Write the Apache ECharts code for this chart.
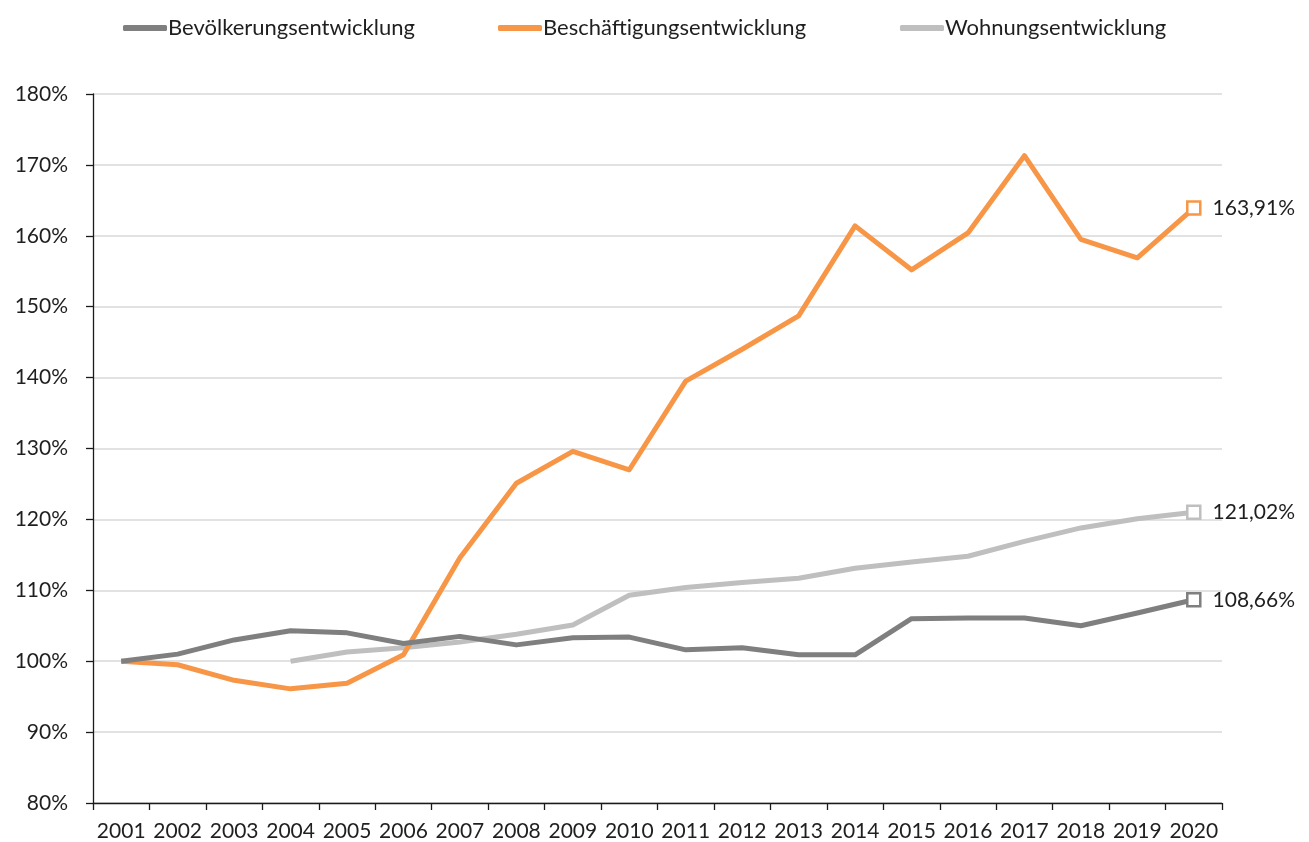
<!DOCTYPE html>
<html>
<head>
<meta charset="utf-8">
<script src="https://cdn.jsdelivr.net/npm/echarts@6/dist/echarts.min.js"></script>
<style>
  html, body { margin: 0; padding: 0; background: #fff; }
  #chart { width: 1309px; height: 842px; }
</style>
</head>
<body>
<div id="chart"></div>
<script>
const years = ['2001', '2002', '2003', '2004', '2005', '2006', '2007', '2008', '2009', '2010',
  '2011', '2012', '2013', '2014', '2015', '2016', '2017', '2018', '2019', '2020']

const bevoelkerung = [100, 101.0, 103.0, 104.3, 104.0, 102.5, 103.5, 102.3, 103.3, 103.4,
  101.6, 101.9, 100.9, 100.9, 106.0, 106.1, 106.1, 105.0, 106.8, 108.66]
const beschaeftigung = [100, 99.5, 97.3, 96.1, 96.9, 100.9, 114.6, 125.1, 129.6, 127.0,
  139.5, 144.0, 148.7, 161.4, 155.2, 160.4, 171.3, 159.5, 156.9, 163.91]
const wohnungen = [null, null, null, 100, 101.3, 101.9, 102.7, 103.8, 105.1, 109.3,
  110.4, 111.1, 111.7, 113.1, 114.0, 114.8, 116.9, 118.8, 120.1, 121.02]

const seriesNames = ['Bevölkerungsentwicklung', 'Beschäftigungsentwicklung', 'Wohnungsentwicklung']
const colors = ['#7f7f7f', '#f79646', '#bfbfbf']
const legendLefts = [118, 493, 895]

const fontName = 'Lato'
const textColor = '#1f1f1f'

function buildSeries(name, values, color, z) {
  const lastIdx = values.length - 1
  return {
    name: name,
    type: 'line',
    symbol: 'none',
    z: z,
    lineStyle: { color: color, width: 5, join: 'round' },
    itemStyle: { color: color },
    data: values.map((v, i) => {
      if (i !== lastIdx) return v
      return {
        value: v,
        symbol: 'rect',
        symbolSize: 13,
        itemStyle: { color: '#fff', borderColor: color, borderWidth: 2.5 },
        label: {
          show: true,
          position: 'right',
          distance: 11,
          color: textColor,
          fontFamily: fontName,
          fontSize: 21,
          formatter: (p) => p.value.toFixed(2).replace('.', ',') + '%',
        },
      }
    }),
  }
}

const myChart = echarts.init(document.getElementById('chart'))
myChart.setOption({
  animation: false,
  color: colors,
  textStyle: { fontFamily: fontName },
  legend: seriesNames.map((name, i) => ({
    top: 12,
    left: legendLefts[i],
    itemWidth: 44,
    itemHeight: 6,
    icon: 'roundRect',
    textStyle: { fontSize: 22, color: textColor, fontFamily: fontName, padding: [0, 0, 0, -4] },
    data: [name],
  })),
  grid: {
    left: 93,
    right: 87,
    top: 94,
    bottom: 39,
    containLabel: false,
  },
  xAxis: {
    type: 'category',
    data: years,
    boundaryGap: true,
    axisLine: { lineStyle: { color: '#1a1a1a', width: 1.3 } },
    axisTick: { show: true, length: 7, lineStyle: { color: '#1a1a1a', width: 1.3 } },
    axisLabel: {
      interval: 0,
      margin: 18,
      fontSize: 21,
      color: textColor,
      fontFamily: fontName,
    },
  },
  yAxis: {
    type: 'value',
    min: 80,
    max: 180,
    interval: 10,
    axisLine: { show: true, lineStyle: { color: '#1a1a1a', width: 1.3 } },
    axisTick: { show: true, length: 7, lineStyle: { color: '#1a1a1a', width: 1.3 } },
    axisLabel: {
      margin: 25,
      fontSize: 21,
      color: textColor,
      fontFamily: fontName,
      formatter: '{value}%',
    },
    splitLine: { lineStyle: { color: '#d9d9d9', width: 1.5 } },
  },
  series: [
    buildSeries(seriesNames[0], bevoelkerung, colors[0], 4),
    buildSeries(seriesNames[1], beschaeftigung, colors[1], 3),
    buildSeries(seriesNames[2], wohnungen, colors[2], 2),
  ],
})
</script>
</body>
</html>
